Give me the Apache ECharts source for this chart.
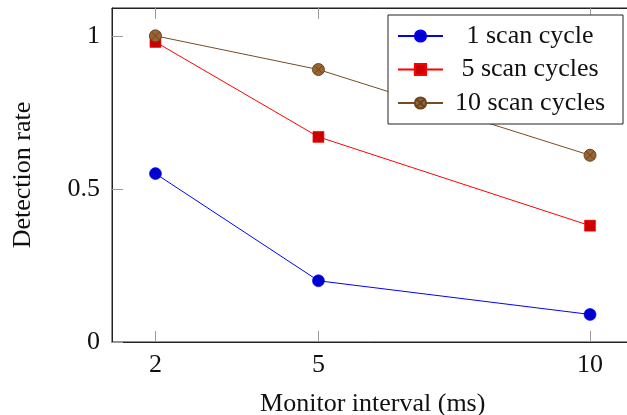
<!DOCTYPE html>
<html>
<head>
<meta charset="utf-8">
<script src="https://cdn.jsdelivr.net/npm/echarts@6/dist/echarts.min.js"></script>
<style>html,body{margin:0;padding:0;background:#fff}#c{width:627px;height:415px}</style>
</head>
<body>
<div id="c"></div>
<script>
var xValues = [2, 5, 10];
var oneScan = [0.55, 0.20, 0.09];
var fiveScan = [0.98, 0.67, 0.38];
var tenScan = [1.00, 0.89, 0.61];
var xTicks = [2, 5, 10];
var yTicks = [0, 0.5, 1];
var seriesNames = ['1 scan cycle', '5 scan cycles', '10 scan cycles'];

function pairs(ys) { return xValues.map(function (x, i) { return [x, ys[i]]; }); }

var FONT = 'Liberation Serif';
var otimes = 'path://M0,-10 A10,10 0 1,1 0,10 A10,10 0 1,1 0,-10 Z M-7.07,-7.07 L7.07,7.07 M7.07,-7.07 L-7.07,7.07';

var chart = echarts.init(document.getElementById('c'), null, {renderer: 'canvas'});
var tickStyle = {color: '#9a9a9a', width: 1};
chart.setOption({
  animation: false,
  grid: {left: 112, top: 8, width: 521.5, height: 334, show: true, borderColor: '#222', borderWidth: 1,
    containLabel: false, outerBoundsMode: 'none'},
  legend: {
    orient: 'vertical', left: 388, top: 15,
    backgroundColor: '#fff', borderColor: '#222', borderWidth: 1,
    padding: [8, 11, 8, 9], itemWidth: 45, itemHeight: 14, itemGap: 7.5,
    data: seriesNames,
    formatter: function (n) { return '{a|' + n + '}'; },
    textStyle: {
      fontFamily: FONT, fontSize: 26, color: '#111',
      rich: {a: {fontFamily: FONT, fontSize: 26, color: '#111', width: 164, align: 'center', lineHeight: 26}}
    }
  },
  xAxis: [{
    type: 'value', min: 1.2, max: 10.8, position: 'bottom',
    axisLine: {show: true, lineStyle: {color: '#222', width: 1}},
    axisTick: {show: true, inside: true, length: 11, customValues: xTicks, lineStyle: tickStyle},
    axisLabel: {customValues: xTicks, margin: 10, fontFamily: FONT, fontSize: 26, color: '#111'},
    splitLine: {show: false},
    name: 'Monitor interval (ms)', nameLocation: 'middle', nameGap: 49,
    nameTextStyle: {fontFamily: FONT, fontSize: 26, color: '#111'}
  }, {
    type: 'value', min: 1.2, max: 10.8, position: 'top',
    axisLine: {show: true, lineStyle: {color: '#222', width: 1}},
    axisTick: {show: true, inside: true, length: 11, customValues: xTicks, lineStyle: tickStyle},
    axisLabel: {show: false},
    splitLine: {show: false}
  }],
  yAxis: [{
    type: 'value', min: 0, max: 1.091,
    axisLine: {show: true, lineStyle: {color: '#222', width: 1}},
    axisTick: {show: true, inside: true, length: 11, customValues: yTicks, lineStyle: tickStyle},
    axisLabel: {customValues: yTicks, margin: 12, fontFamily: FONT, fontSize: 26, color: '#111',
      formatter: function (v) { return String(v); }},
    splitLine: {show: false},
    name: 'Detection rate', nameLocation: 'middle', nameGap: 76, nameRotate: 90,
    nameTextStyle: {fontFamily: FONT, fontSize: 26, color: '#111'}
  }],
  series: [{
    name: seriesNames[0], type: 'line', data: pairs(oneScan),
    symbol: 'circle', symbolSize: 12,
    lineStyle: {color: '#0000ff', width: 1},
    itemStyle: {color: '#0000cc', borderColor: '#0000ff', borderWidth: 0.6}
  }, {
    name: seriesNames[1], type: 'line', data: pairs(fiveScan),
    symbol: 'rect', symbolSize: 11,
    lineStyle: {color: '#ff0000', width: 1},
    itemStyle: {color: '#cc0000', borderColor: '#ff0000', borderWidth: 0.6}
  }, {
    name: seriesNames[2], type: 'line', data: pairs(tenScan),
    symbol: otimes, symbolSize: 12,
    lineStyle: {color: '#734d26', width: 1},
    itemStyle: {color: '#996633', borderColor: '#6a4522', borderWidth: 1}
  }]
});
</script>
</body>
</html>
